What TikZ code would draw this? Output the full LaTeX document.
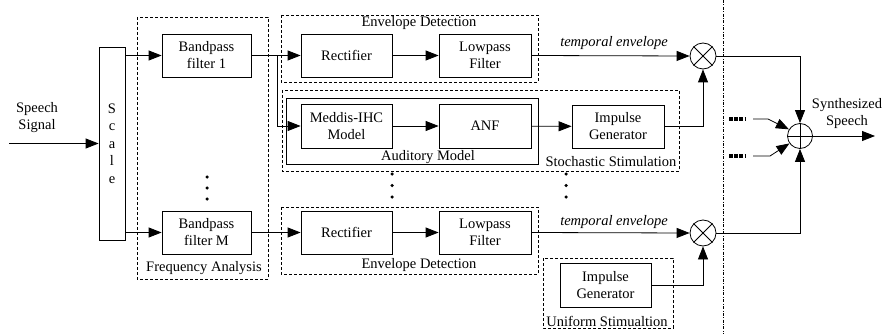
\documentclass[tikz,border=0pt]{standalone}
\usepackage{fontspec}
\setmainfont{Liberation Serif}
\usetikzlibrary{arrows.meta}
\begin{document}
\begin{tikzpicture}[x=1pt,y=-1pt,
  font=\fontsize{14.5}{17}\selectfont,
  line width=0.8pt,
  blk/.style={draw, minimum width=91pt, minimum height=43pt, inner sep=0pt, align=center},
  grp/.style={draw, dash pattern=on 3pt off 2pt, line width=0.7pt},
  opc/.style={draw, circle, minimum size=26pt, inner sep=0pt},
  arr/.style={-{Triangle[length=13pt,width=10pt]}},
  lbl/.style={inner sep=0pt},
  dotc/.style={circle, fill, inner sep=0pt, minimum size=3.5pt}]
\useasboundingbox (0,0) rectangle (882,334);

% group boxes
\draw[grp] (137,17) rectangle (268,279);
\node[lbl] (lfa) at (204,268) {Frequency Analysis};
\draw[grp] (281,15) rectangle (538,82);
\node[lbl] (led1) at (419,23) {Envelope Detection};
\draw[grp] (282,90) rectangle (679,171);
\node[lbl] (lss) at (611,162) {Stochastic Stimulation};
\draw (286,98) rectangle (538,164);
\node[lbl] (lam) at (428,157) {Auditory Model};
\draw[grp] (281,207) rectangle (538,274);
\node[lbl] (led2) at (419,265) {Envelope Detection};
\draw[grp] (543,258) rectangle (673,328);
\node[lbl] (lus) at (607,321) {Uniform Stimualtion};

% blocks
\node[draw, minimum width=26pt, minimum height=193pt, inner sep=0pt, align=center,
      font=\fontsize{14.5}{17.5}\selectfont] (scale) at (112,143.5) {S\\c\\a\\l\\e};
\node[blk, minimum width=89pt] (bpf1) at (206.5,55.5) {Bandpass\\filter 1};
\node[blk, minimum width=89pt] (bpfM) at (206.5,232.5) {Bandpass\\filter M};
\node[blk] (rect1) at (346.5,55.5) {Rectifier};
\node[blk, minimum width=92pt] (lp1) at (485,55.5) {Lowpass\\Filter};
\node[blk, minimum height=44pt] (meddis) at (346.5,126) {Meddis-IHC\\Model};
\node[blk, minimum width=92pt, minimum height=44pt] (anf) at (485,126) {ANF};
\node[blk, minimum width=92pt] (imp1) at (618,126.5) {Impulse\\Generator};
\node[blk] (rectM) at (346.5,232.5) {Rectifier};
\node[blk, minimum width=92pt] (lpM) at (485,232.5) {Lowpass\\Filter};
\node[blk, minimum height=44pt] (imp2) at (605.5,285) {Impulse\\Generator};

% operators
\node[opc] (mul1) at (703,56) {};
\node[opc] (mul2) at (703,233) {};
\node[opc, minimum size=25pt] (sum) at (800,136) {};
\draw (mul1.45) -- (mul1.225) (mul1.135) -- (mul1.315);
\draw (mul2.45) -- (mul2.225) (mul2.135) -- (mul2.315);
\draw (sum.north) -- (sum.south) (sum.west) -- (sum.east);

% labels / text
\node[lbl, align=center] (speech) at (37,118) {Speech\\Signal};
\node[lbl, align=center] (synth) at (847,114) {Synthesized\\Speech};
\node[lbl, font=\fontsize{14.5}{17}\selectfont\itshape] (te1) at (614,43) {temporal envelope};
\node[lbl, font=\fontsize{14.5}{17}\selectfont\itshape] (te2) at (614,222) {temporal envelope};

% dots
\foreach \y [count=\i] in {177,188,199} \node[dotc] (da\i) at (207,\y) {};
\foreach \y [count=\i] in {174,185.5,197} \node[dotc] (db\i) at (392,\y) {};
\foreach \y [count=\i] in {174,185.5,197} \node[dotc] (dc\i) at (566,\y) {};

% coordinates
\coordinate (sin) at (9,143.5);
\coordinate (br) at (277,55.5);
\coordinate (out) at (875,136);
\coordinate (vt) at (723,0);
\coordinate (vb) at (723,334);
\coordinate (g1s) at (753,119);
\coordinate (g1k) at (768,119);
\coordinate (g2s) at (753,156);
\coordinate (g2k) at (770,156);

% connectors
\draw[arr] (sin) -- (scale.west);
\draw[arr] (scale.east |- bpf1) -- (bpf1.west);
\draw[arr] (scale.east |- bpfM) -- (bpfM.west);
\draw[arr] (bpf1.east) -- (rect1.west);
\draw[arr] (br) |- (meddis.west);
\draw[arr] (rect1) -- (lp1);
\draw[arr] (meddis) -- (anf);
\draw[arr] (anf) -- (imp1);
\draw[arr] (bpfM.east) -- (rectM.west);
\draw[arr] (rectM) -- (lpM);
\draw[arr] (lp1.east) -- (mul1.west);
\draw[arr] (lpM.east) -- (mul2.west);
\draw[arr] (imp1.east) -| (mul1.south);
\draw[arr] (imp2.east) -| (mul2.south);
\draw[arr] (mul1.east) -| (sum.north);
\draw[arr] (mul2.east) -| (sum.south);
\draw[arr] (sum.east) -- (out);
\draw[arr] (g1s) -- (g1k) -- (sum.149);
\draw[arr] (g2s) -- (g2k) -- (sum.215);

% separator
\draw[line width=0.6pt, dash pattern=on 3pt off 1.5pt on 0.8pt off 1.5pt] (vt) -- (vb);

% ellipsis glyphs
\draw[line width=3.5pt, dash pattern=on 4pt off 1.2pt] (729,119) -- (745,119);
\draw[line width=3.5pt, dash pattern=on 4pt off 1.2pt] (729,156) -- (745,156);
\end{tikzpicture}
\end{document}
